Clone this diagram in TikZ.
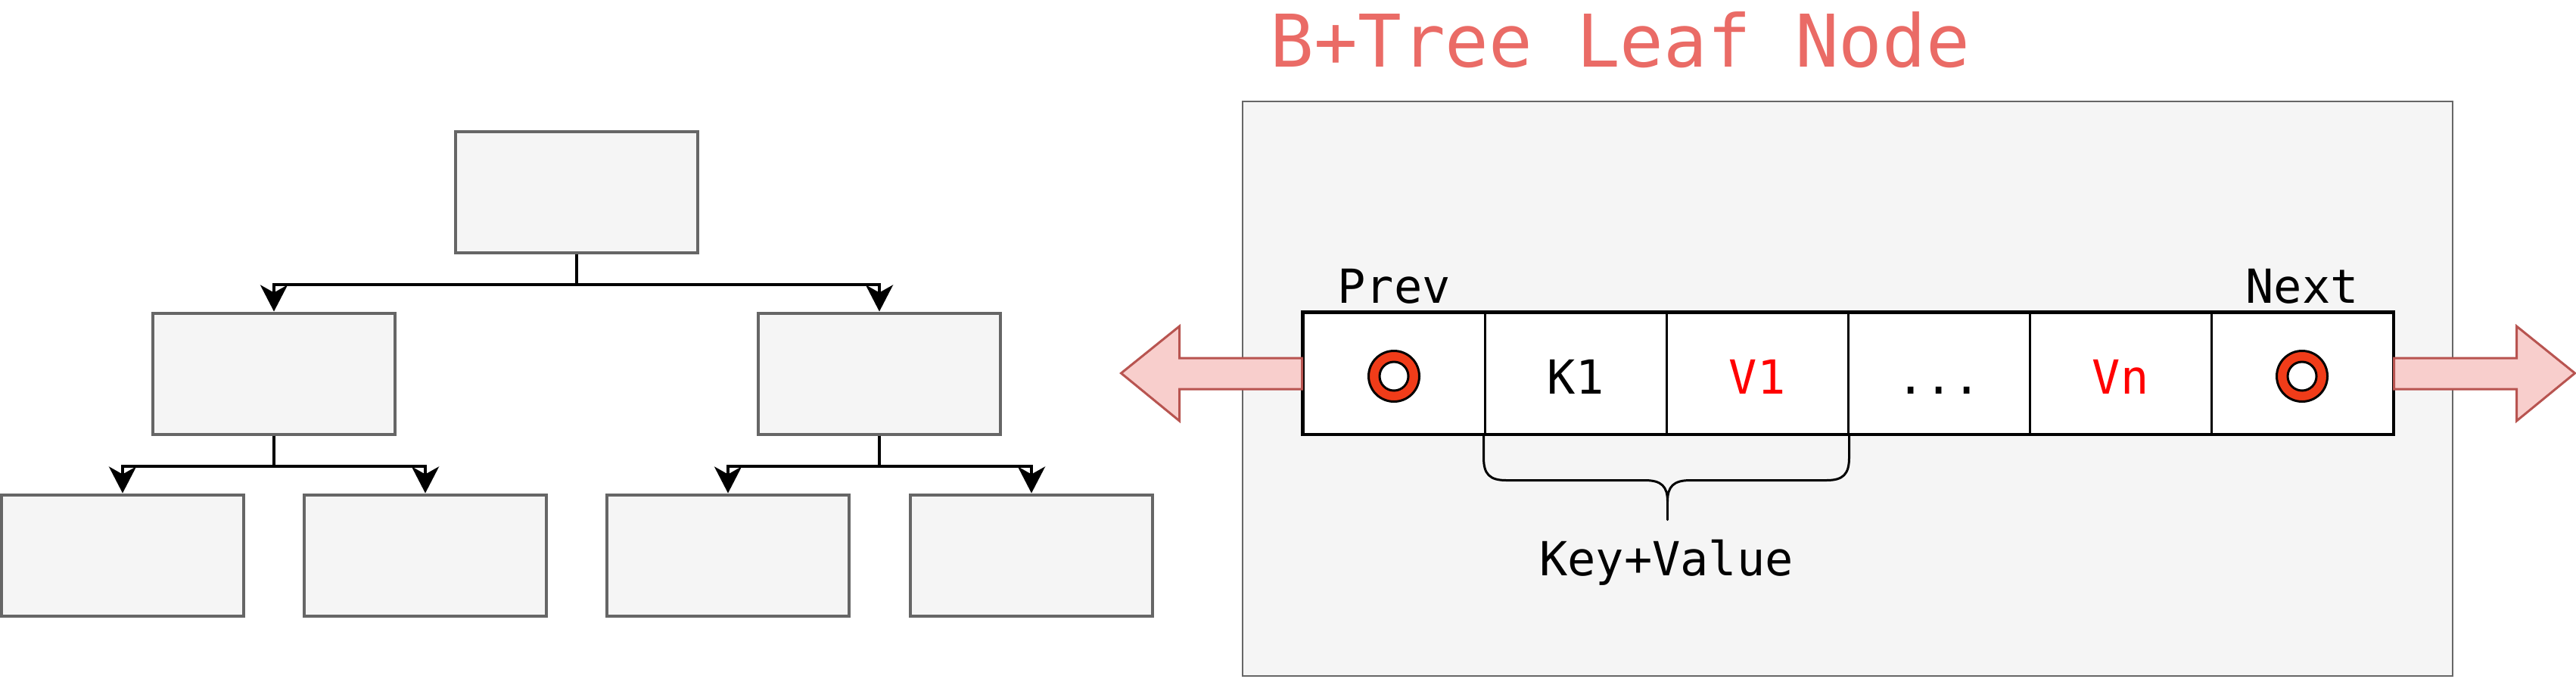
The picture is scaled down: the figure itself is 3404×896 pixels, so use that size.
\documentclass[tikz,border=0pt]{standalone}
\usepackage{fontspec}
\setmonofont{DejaVu Sans Mono}
\usetikzlibrary{arrows.meta,calc}
\definecolor{boxfill}{HTML}{F5F5F5}
\definecolor{boxdraw}{HTML}{666666}
\definecolor{titlecol}{HTML}{EA6B66}
\definecolor{ringred}{RGB}{240,60,25}
\definecolor{arrfill}{HTML}{F8CECC}
\definecolor{arrdraw}{HTML}{B85450}
\begin{document}
\begin{tikzpicture}[x=0.5pt,y=-0.5pt,
  treebox/.style={draw=boxdraw, fill=boxfill, line width=2pt, minimum width=160pt, minimum height=80pt, inner sep=0pt},
  conn/.style={line width=2pt, -{Stealth[length=17.5pt,width=18pt,inset=5pt]}},
  cellbox/.style={draw=black, fill=white, line width=1.5pt, minimum width=120pt, minimum height=80pt, inner sep=0pt},
  txt/.style={font=\ttfamily\fontsize{31}{37}\selectfont, inner sep=0pt, anchor=base},
  redtxt/.style={txt, text=red},
  ring/.style={circle, draw=black, fill=ringred, line width=1.5pt, minimum size=33.5pt, inner sep=0pt},
  hole/.style={circle, draw=black, fill=white, line width=1.5pt, minimum size=19pt, inner sep=0pt},
  blockarrow/.style={draw=arrdraw, fill=arrfill, line width=1.5pt, line join=miter},
  brace/.style={draw=black, line width=1.5pt, line join=round, line cap=round}
]
\useasboundingbox (0,0) rectangle (3404,896);

% ---- tree ----
\node[treebox] (root) at (762,254) {};
\node[treebox] (l2a) at (362,493.5) {};
\node[treebox] (l2b) at (1162,493.5) {};
\node[treebox] (l3a) at (162,733.5) {};
\node[treebox] (l3b) at (562,733.5) {};
\node[treebox] (l3c) at (962,733.5) {};
\node[treebox] (l3d) at (1363,733.5) {};

\draw[conn] (root.south) -- ++(0,40) -| (l2a.north);
\draw[conn] (root.south) -- ++(0,40) -| (l2b.north);
\draw[conn] (l2a.south) -- ++(0,40) -| (l3a.north);
\draw[conn] (l2a.south) -- ++(0,40) -| (l3b.north);
\draw[conn] (l2b.south) -- ++(0,40) -| (l3c.north);
\draw[conn] (l2b.south) -- ++(0,40) -| (l3d.north);

% ---- leaf node container ----
\node[draw=boxdraw, fill=boxfill, line width=1.35pt, minimum width=799.5pt, minimum height=379.5pt, inner sep=0pt] (leaf) at (2441.5,513.5) {};
\node[anchor=base, inner sep=0pt, text=titlecol, font=\ttfamily\fontsize{48}{58}\selectfont] (title) at (2141,88) {B+Tree Leaf Node};

% ---- cells ----
\node[cellbox] (c1) at (1842,493) {};
\node[cellbox] (c2) at (2082,493) {};
\node[cellbox] (c3) at (2322,493) {};
\node[cellbox] (c4) at (2562,493) {};
\node[cellbox] (c5) at (2802,493) {};
\node[cellbox] (c6) at (3042,493) {};
\draw[line width=1.7pt] (c1.north west) rectangle (c6.south east);

% ---- block arrows ----
\draw[blockarrow] (c1.west) ++(0,-20) -- ++(-162,0) -- ++(0,-42) -- ++(-77,62) -- ++(77,63) -- ++(0,-42) -- ++(162,0) -- cycle;
\draw[blockarrow] (c6.east) ++(0,-20) -- ++(162,0) -- ++(0,-42) -- ++(77,62) -- ++(-77,63) -- ++(0,-42) -- ++(-162,0) -- cycle;

% ---- pointers ----
\node[ring] (pr) at (1842,497) {};
\node[hole] (prh) at (pr) {};
\node[ring] (nx) at (3042,497) {};
\node[hole] (nxh) at (nx) {};

% ---- texts ----
\node[txt] (prev) at (1842,400) {Prev};
\node[txt] (next) at (3042,400) {Next};
\node[txt] (k1) at (2082,520) {K1};
\node[redtxt] (v1) at (2322,520) {V1};
\node[txt] (dots) at (2562,520) {...};
\node[redtxt] (vn) at (2802,520) {Vn};

% ---- brace ----
\coordinate (bl) at (c2.south west);
\coordinate (br) at (c3.south east);
\coordinate (bm) at (c2.south east);
\draw[brace] (bl) -- ++(0,30) .. controls ++(0,22) and ++(-22,0) .. ++(30,30)
  -- ($(bm)+(-30,60)$) .. controls ++(22,0) and ++(0,-20) .. ($(bm)+(0,88)$)
  .. controls ++(0,-20) and ++(-22,0) .. ($(bm)+(30,60)$)
  -- ($(br)+(-30,60)$) .. controls ++(22,0) and ++(0,22) .. ($(br)+(0,30)$) -- (br);
\coordinate (btip) at ($(bm)+(0,112)$);
\draw[brace] ($(bm)+(0,88)$) -- (btip);
\node[txt] (kv) at (2202,760) {Key+Value};
\end{tikzpicture}
\end{document}
